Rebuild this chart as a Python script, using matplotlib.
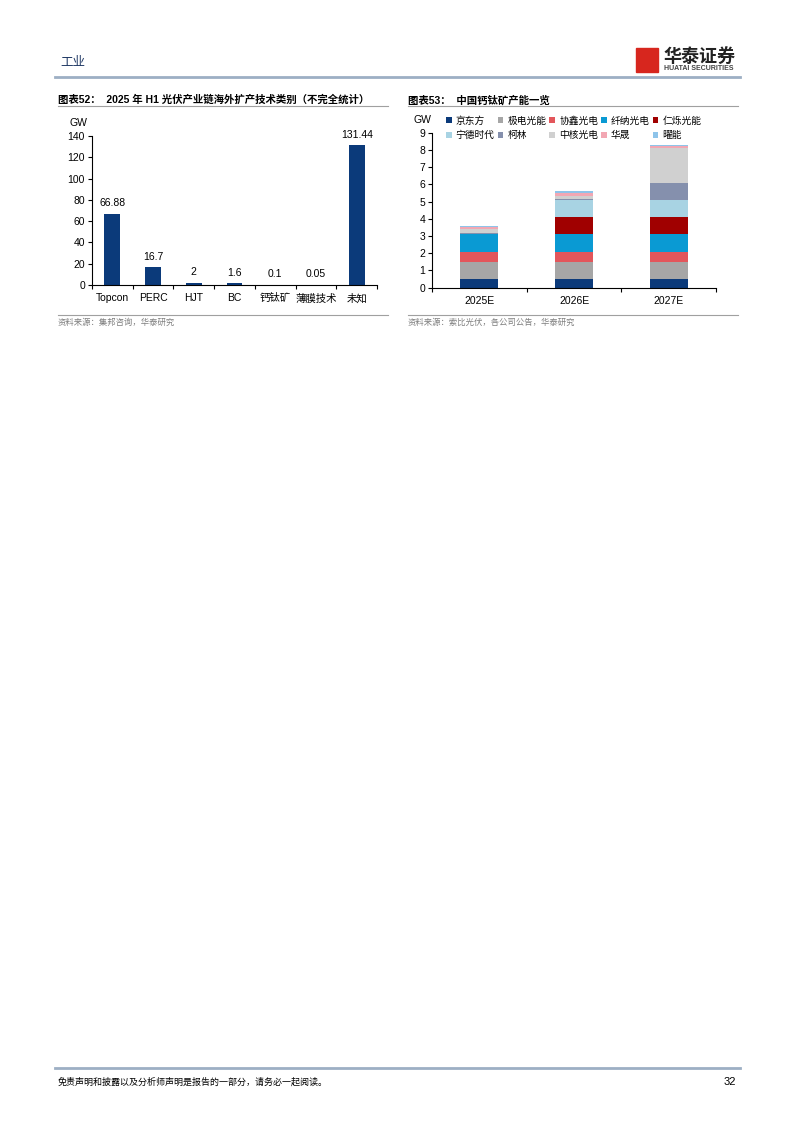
import matplotlib.pyplot as plt
import matplotlib.patches as mpatches
import numpy as np

plt.rcParams['font.family'] = ['Liberation Sans', 'Noto Sans CJK SC', 'DejaVu Sans']

# chart 52 data
tech_labels = ['Topcon', 'PERC', 'HJT', 'BC', '钙钛矿', '薄膜技术', '未知']
tech_values = [66.88, 16.7, 2, 1.6, 0.1, 0.05, 131.44]
tech_text = ['66.88', '16.7', '2', '1.6', '0.1', '0.05', '131.44']

# chart 53 data
years = ['2025E', '2026E', '2027E']
companies = ['京东方', '极电光能', '协鑫光电', '纤纳光电', '仁烁光能',
             '宁德时代', '柯林', '中核光电', '华晟', '曜能']
boe = [0.5, 0.5, 0.5]
jidian = [1.0, 1.0, 1.0]
gcl = [0.6, 0.6, 0.6]
xianna = [1.0, 1.0, 1.0]
renshuo = [0.0, 1.0, 1.0]
catl = [0.0, 1.0, 1.0]
kelin = [0.1, 0.05, 1.0]
zhonghe = [0.2, 0.2, 2.0]
huasheng = [0.1, 0.15, 0.1]
yaoneng = [0.1, 0.1, 0.1]
capacity = [boe, jidian, gcl, xianna, renshuo, catl, kelin, zhonghe, huasheng, yaoneng]
colors = ['#0B3A7A', '#A6A6A6', '#E3565B', '#0A9AD3', '#A00000',
          '#A8D3E3', '#8590AD', '#D0D0D0', '#F2A7B3', '#8EC4EA']

fig = plt.figure(figsize=(7.94, 11.23), dpi=100)
W, H = 794.0, 1123.0


def fx(px):
    return px / W


def fy(py):
    return 1 - py / H


navy = '#0B3A7A'
gray_text = '#7F7F7F'
line_col = '#9DAFC4'

# header
fig.text(fx(60), fy(63), '工业', fontsize=9, color='#1F3864', va='center')
fig.add_artist(plt.Line2D([fx(55), fx(740)], [fy(77), fy(77)], color=line_col, lw=2))
fig.add_artist(mpatches.Rectangle((fx(636), fy(72)), 22 / W, 24 / H, color='#D7261E'))
fig.text(fx(663), fy(57), '华泰证券', fontsize=13, fontweight='bold', color='#222222', va='center')
fig.text(fx(664), fy(69), 'HUATAI SECURITIES', fontsize=5, fontweight='bold', color='#444444', va='center')

# titles
fig.text(fx(58), fy(100), '图表52：  2025 年 H1 光伏产业链海外扩产技术类别（不完全统计）',
         fontsize=7.5, fontweight='bold', va='center')
fig.text(fx(408), fy(100), '图表53：  中国钙钛矿产能一览', fontsize=7.5, fontweight='bold', va='center')
for x0, x1 in [(58, 388), (408, 738)]:
    fig.add_artist(plt.Line2D([fx(x0), fx(x1)], [fy(106), fy(106)], color='#A0A0A0', lw=0.8))
    fig.add_artist(plt.Line2D([fx(x0), fx(x1)], [fy(315), fy(315)], color='#A0A0A0', lw=0.8))

fig.text(fx(58), fy(323), '资料来源：集邦咨询，华泰研究', fontsize=6, color=gray_text, va='center')
fig.text(fx(408), fy(323), '资料来源：索比光伏，各公司公告，华泰研究', fontsize=6, color=gray_text, va='center')

# left chart
ax1 = fig.add_axes([fx(92), fy(285), 285 / W, 149 / H])
x = np.arange(len(tech_labels))
ax1.bar(x, tech_values, width=0.39, color=navy)
for xi, v, t in zip(x, tech_values, tech_text):
    ax1.annotate(t, (xi, v), xytext=(0, 4), textcoords='offset points',
                 ha='center', va='bottom', fontsize=7.5)
ax1.set_xlim(-0.5, len(tech_labels) - 0.5)
ax1.set_ylim(0, 140)
ax1.set_yticks(np.arange(0, 141, 20))
ax1.set_xticks(np.arange(-0.5, len(tech_labels), 1))
ax1.set_xticklabels([])
ax1.set_xticks(x, minor=True)
ax1.set_xticklabels(tech_labels, minor=True)
ax1.tick_params(axis='x', which='minor', length=0, pad=6, labelsize=7.5)
ax1.tick_params(axis='x', which='major', length=3, direction='out')
ax1.tick_params(axis='y', length=3, labelsize=7.5, pad=2)
for s in ['top', 'right']:
    ax1.spines[s].set_visible(False)
for s in ['left', 'bottom']:
    ax1.spines[s].set_linewidth(0.8)
fig.text(fx(78), fy(123), 'GW', fontsize=7.5, va='center', ha='center')

# right chart
ax2 = fig.add_axes([fx(432), fy(287.7), 284 / W, 155 / H])
xr = np.arange(len(years))
bottom = np.zeros(len(years))
handles = []
for name, vals, c in zip(companies, capacity, colors):
    b = ax2.bar(xr, vals, width=0.4, bottom=bottom, color=c, label=name)
    handles.append(b)
    bottom += np.array(vals)
ax2.set_xlim(-0.5, len(years) - 0.5)
ax2.set_ylim(0, 9)
ax2.set_yticks(np.arange(0, 10, 1))
ax2.set_xticks(np.arange(-0.5, len(years), 1))
ax2.set_xticklabels([])
ax2.set_xticks(xr, minor=True)
ax2.set_xticklabels(years, minor=True)
ax2.tick_params(axis='x', which='minor', length=0, pad=6, labelsize=7.5)
ax2.tick_params(axis='x', which='major', length=3, direction='out')
ax2.tick_params(axis='y', length=3, labelsize=7.5, pad=2)
for s in ['top', 'right']:
    ax2.spines[s].set_visible(False)
for s in ['left', 'bottom']:
    ax2.spines[s].set_linewidth(0.8)
fig.text(fx(422), fy(120), 'GW', fontsize=7.5, va='center', ha='center')

order = [0, 5, 1, 6, 2, 7, 3, 8, 4, 9]
leg = fig.legend([handles[i] for i in order], [companies[i] for i in order],
                 ncol=5, loc='upper left', bbox_to_anchor=(fx(446), fy(115.5)),
                 frameon=False, fontsize=7, handlelength=0.6, handleheight=0.6,
                 handletextpad=0.4, columnspacing=0.3, labelspacing=0.5,
                 borderpad=0, borderaxespad=0)

# footer
fig.add_artist(plt.Line2D([fx(55), fx(740)], [fy(1068), fy(1068)], color=line_col, lw=2))
fig.text(fx(58), fy(1082), '免责声明和披露以及分析师声明是报告的一部分，请务必一起阅读。',
         fontsize=6.5, style='italic', va='center')
fig.text(fx(736), fy(1082), '32', fontsize=8, ha='right', va='center')

fig.savefig('out.png', dpi=100)
